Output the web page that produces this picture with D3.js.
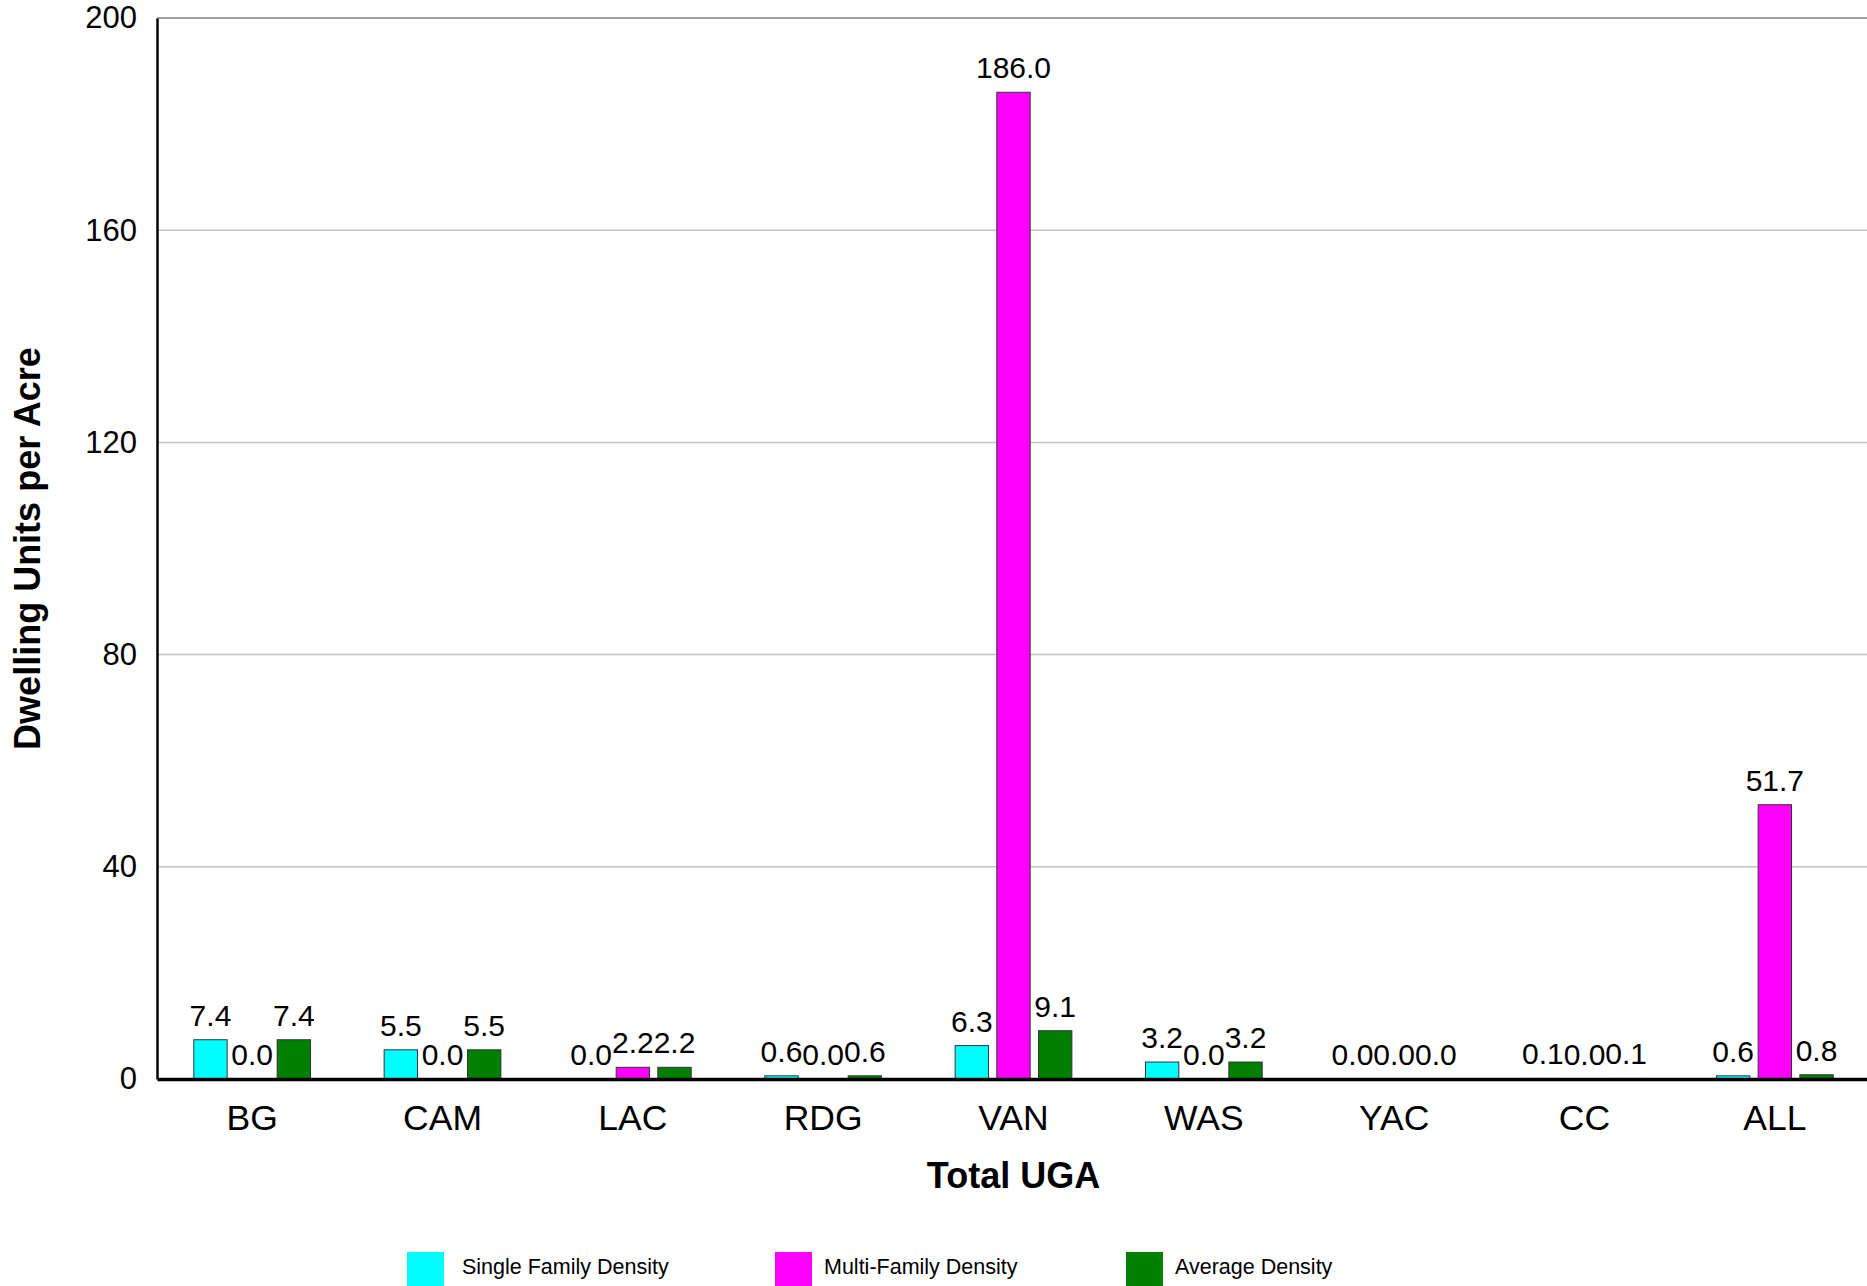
<!DOCTYPE html>
<html>
<head>
<meta charset="utf-8">
<script src="https://cdn.jsdelivr.net/npm/d3@7"></script>
<style>
  html, body { margin: 0; padding: 0; background: #fff; overflow: hidden; }
  svg { display: block; font-family: "Liberation Sans", Arial, sans-serif; }
</style>
</head>
<body>
<script>
const categories = ["BG", "CAM", "LAC", "RDG", "VAN", "WAS", "YAC", "CC", "ALL"];
const singleFamily = [7.4, 5.5, 0.0, 0.6, 6.3, 3.2, 0.0, 0.1, 0.6];
const multiFamily = [0.0, 0.0, 2.2, 0.0, 186.0, 0.0, 0.0, 0.0, 51.7];
const averageDensity = [7.4, 5.5, 2.2, 0.6, 9.1, 3.2, 0.0, 0.1, 0.8];
const seriesNames = ["Single Family Density", "Multi-Family Density", "Average Density"];
const seriesColors = ["#00FFFF", "#FF00FF", "#008000"];
const yTicks = [0, 40, 80, 120, 160, 200];
const xTitle = "Total UGA";
const yTitle = "Dwelling Units per Acre";

(function () {
const W = 1867, H = 1286;
const mLeft = 157, mRight = 1870, mTop = 18, mBottom = 1079;

const svg = d3.select("body").append("svg").attr("width", W).attr("height", H);

const x0 = d3.scaleBand().domain(categories).range([mLeft, mRight]).padding(0);
const groupW = 133.4;
const x1 = d3.scaleBand().domain(seriesNames).range([0, groupW]).padding(0.2);
const y = d3.scaleLinear().domain([0, 200]).range([mBottom, mTop]);
const color = d3.scaleOrdinal().domain(seriesNames).range(seriesColors);

// gridlines
svg.append("g").selectAll("line").data(yTicks.filter(d => d > 0)).join("line")
  .attr("x1", mLeft).attr("x2", mRight)
  .attr("y1", d => y(d)).attr("y2", d => y(d))
  .attr("stroke", d => d === 200 ? "#a0a0a0" : "#c4c4c4")
  .attr("stroke-width", d => d === 200 ? 2 : 1.5);

// y axis
const yAxis = d3.axisLeft(y).tickValues(yTicks).tickSize(0).tickPadding(20).tickFormat(d3.format("d"));
const yg = svg.append("g").attr("transform", `translate(${mLeft},0)`).call(yAxis);
yg.select(".domain").attr("stroke", "#000").attr("stroke-width", 2.5);
yg.selectAll("text").attr("font-size", 31).attr("fill", "#000")
  .attr("font-family", "'Liberation Sans', Arial, sans-serif");

// data
const data = categories.map((c, i) => ({
  cat: c,
  vals: [singleFamily[i], multiFamily[i], averageDensity[i]]
}));

const groups = svg.append("g").selectAll("g").data(data).join("g")
  .attr("transform", d => `translate(${x0(d.cat) + (x0.bandwidth() - groupW) / 2},0)`);

groups.selectAll("rect").data(d => d.vals.map((v, j) => ({ name: seriesNames[j], v })).filter(e => e.v > 0))
  .join("rect")
  .attr("x", d => x1(d.name))
  .attr("width", x1.bandwidth())
  .attr("y", d => y(d.v))
  .attr("height", d => y(0) - y(d.v))
  .attr("fill", d => color(d.name))
  .attr("stroke", "#333")
  .attr("stroke-width", 1);

groups.selectAll("text").data(d => d.vals.map((v, j) => ({ name: seriesNames[j], v })))
  .join("text")
  .attr("x", d => x1(d.name) + x1.bandwidth() / 2)
  .attr("y", d => y(d.v) - 14)
  .attr("text-anchor", "middle")
  .attr("font-size", 30)
  .attr("fill", "#000")
  .text(d => d3.format(".1f")(d.v));

// baseline x axis
const xAxis = d3.axisBottom(x0).tickSize(0).tickPadding(0);
const xg = svg.append("g").attr("transform", `translate(0,${mBottom})`).call(xAxis);
xg.select(".domain").attr("stroke", "#000").attr("stroke-width", 3.5);
xg.selectAll("text").attr("font-size", 35.5).attr("fill", "#000")
  .attr("font-family", "'Liberation Sans', Arial, sans-serif")
  .attr("dy", null).attr("y", 51);

// axis titles
svg.append("text")
  .attr("x", (mLeft + mRight) / 2).attr("y", 1188)
  .attr("text-anchor", "middle").attr("font-size", 36).attr("font-weight", "bold")
  .text(xTitle);

svg.append("text")
  .attr("transform", `translate(40,${(mTop + mBottom) / 2}) rotate(-90)`)
  .attr("text-anchor", "middle").attr("font-size", 36).attr("font-weight", "bold")
  .text(yTitle);

// legend
const legendSwatchX = [407, 775, 1126];
const legendTextX = [462, 824, 1175];
const leg = svg.append("g").selectAll("g").data(seriesNames).join("g");
leg.append("rect").attr("x", (d, i) => legendSwatchX[i]).attr("y", 1252)
  .attr("width", 37).attr("height", 37).attr("fill", d => color(d));
leg.append("text").attr("x", (d, i) => legendTextX[i]).attr("y", 1274)
  .attr("font-size", 21.5).attr("fill", "#000")
  .text(d => d);
})();
</script>
</body>
</html>
